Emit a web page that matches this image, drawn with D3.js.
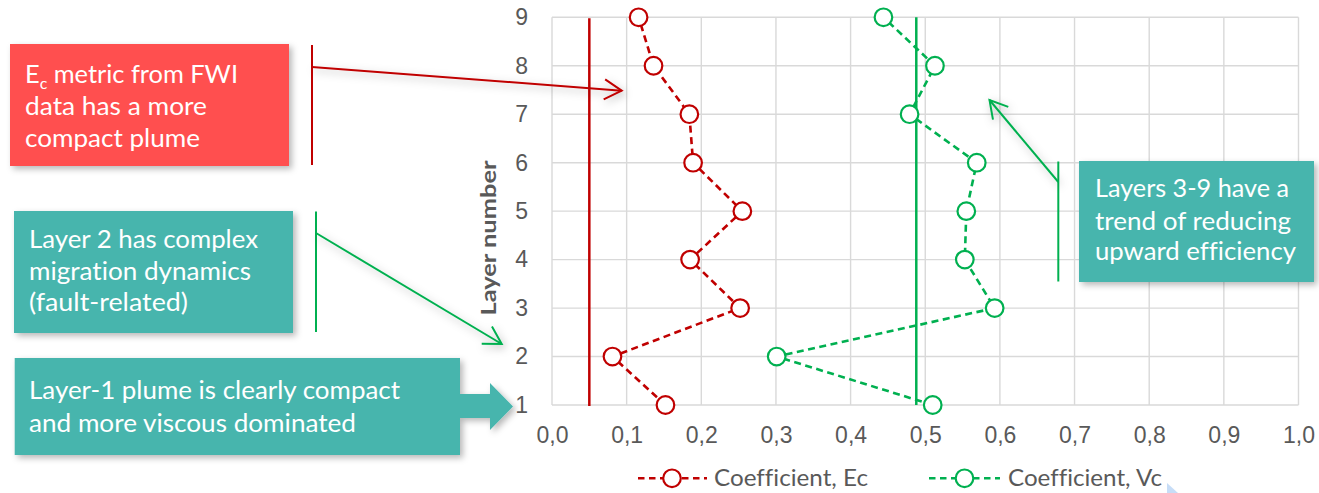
<!DOCTYPE html>
<html>
<head>
<meta charset="utf-8">
<script src="https://cdn.jsdelivr.net/npm/d3@7"></script>
<style>
  html, body { margin: 0; padding: 0; background: #fff; }
  svg { display: block; }
</style>
</head>
<body>
<svg id="chart" width="1319" height="493"></svg>
<script>
// ---------------- DATA ----------------
const layers = [1, 2, 3, 4, 5, 6, 7, 8, 9];
const ecValues = [0.152, 0.081, 0.252, 0.185, 0.255, 0.189, 0.184, 0.136, 0.116];
const vcValues = [0.510, 0.301, 0.593, 0.553, 0.555, 0.569, 0.479, 0.513, 0.444];
const ecThreshold = 0.05;
const vcThreshold = 0.488;
const xTicks = [0, 0.1, 0.2, 0.3, 0.4, 0.5, 0.6, 0.7, 0.8, 0.9, 1.0];
const yTicks = [1, 2, 3, 4, 5, 6, 7, 8, 9];
const seriesNames = ["Coefficient, Ec", "Coefficient, Vc"];
const yAxisTitle = "Layer number";

// ---------------- SETUP ----------------
const svg = d3.select("#chart");
const RED = "#c00000", GREEN = "#00b050", GRID = "#d9d9d9", TXT = "#595959";
const RED_BOX = "#ff5050", TEAL = "#46b5ad";
const CAL = "Lato, 'Open Sans', sans-serif";

const x = d3.scaleLinear().domain([0, 1]).range([552, 1298.5]);
const y = d3.scaleLinear().domain([1, 9]).range([405, 17.3]);

const defs = svg.append("defs");
const f1 = defs.append("filter").attr("id", "shadow")
  .attr("x", "-20%").attr("y", "-30%").attr("width", "140%").attr("height", "160%");
f1.append("feDropShadow").attr("dx", 3).attr("dy", 3).attr("stdDeviation", 3)
  .attr("flood-color", "#000").attr("flood-opacity", 0.28);
const f2 = defs.append("filter").attr("id", "ashadow")
  .attr("x", "-30%").attr("y", "-30%").attr("width", "160%").attr("height", "160%");
f2.append("feDropShadow").attr("dx", 2).attr("dy", 3).attr("stdDeviation", 4)
  .attr("flood-color", "#000").attr("flood-opacity", 0.3);

// ---------------- GRID ----------------
const grid = svg.append("g");
grid.selectAll("line.v").data(xTicks).join("line")
  .attr("x1", d => x(d)).attr("x2", d => x(d))
  .attr("y1", y(9)).attr("y2", y(1))
  .attr("stroke", GRID).attr("stroke-width", 1.4);
grid.selectAll("line.h").data(yTicks).join("line")
  .attr("x1", x(0)).attr("x2", x(1))
  .attr("y1", d => y(d)).attr("y2", d => y(d))
  .attr("stroke", GRID).attr("stroke-width", 1.4);

// ---------------- AXES ----------------
const loc = d3.formatLocale({decimal: ",", thousands: ".", grouping: [3], currency: ["", ""]});
const fmt = loc.format(".1f");
const xAxis = svg.append("g").attr("transform", `translate(0,${y(1)})`)
  .call(d3.axisBottom(x).tickValues(xTicks).tickFormat(fmt).tickSize(0).tickPadding(22));
const yAxis = svg.append("g").attr("transform", `translate(${x(0)},0)`)
  .call(d3.axisLeft(y).tickValues(yTicks).tickFormat(d3.format("d")).tickSize(0).tickPadding(24));
[xAxis, yAxis].forEach(a => {
  a.select(".domain").remove();
  a.selectAll("text").attr("fill", TXT)
    .style("font-family", "'Liberation Sans', Arial, sans-serif").style("font-size", "23px");
});

svg.append("text")
  .attr("transform", `translate(496,238) rotate(-90)`)
  .attr("text-anchor", "middle")
  .attr("fill", TXT).style("font-family", CAL).style("font-weight", "bold").style("font-size", "21px")
  .attr("textLength", 155).attr("lengthAdjust", "spacingAndGlyphs")
  .text(yAxisTitle);

// ---------------- THRESHOLD LINES ----------------
svg.append("line").attr("x1", x(ecThreshold)).attr("x2", x(ecThreshold))
  .attr("y1", y(9) + 1).attr("y2", y(1) + 1).attr("stroke", RED).attr("stroke-width", 2.5);
svg.append("line").attr("x1", x(vcThreshold)).attr("x2", x(vcThreshold))
  .attr("y1", y(9)).attr("y2", y(1)).attr("stroke", GREEN).attr("stroke-width", 2.5);

// ---------------- SERIES ----------------
const series = [
  {name: seriesNames[0], values: ecValues, color: RED},
  {name: seriesNames[1], values: vcValues, color: GREEN}
];
const line = d3.line().x(d => x(d.v)).y(d => y(d.l));
series.forEach(s => {
  const pts = layers.map((l, i) => ({l, v: s.values[i]}));
  svg.append("path").datum(pts).attr("d", line)
    .attr("fill", "none").attr("stroke", s.color).attr("stroke-width", 2.6)
    .attr("stroke-dasharray", "7,4.5");
  svg.append("g").selectAll("circle").data(pts).join("circle")
    .attr("cx", d => x(d.v)).attr("cy", d => y(d.l)).attr("r", 8.8)
    .attr("fill", "#fff").attr("stroke", s.color).attr("stroke-width", 2.2);
});

// ---------------- LEGEND ----------------
const legendItems = [
  {name: seriesNames[0], color: RED, x1: 638, x2: 707, cx: 672, tx: 714},
  {name: seriesNames[1], color: GREEN, x1: 929, x2: 1000, cx: 964.5, tx: 1008}
];
legendItems.forEach(it => {
  svg.append("line").attr("x1", it.x1).attr("x2", it.x2).attr("y1", 478.3).attr("y2", 478.3)
    .attr("stroke", it.color).attr("stroke-width", 2.6).attr("stroke-dasharray", "6.5,4.5");
  svg.append("circle").attr("cx", it.cx).attr("cy", 478.3).attr("r", 8.8)
    .attr("fill", "#fff").attr("stroke", it.color).attr("stroke-width", 2.2);
  svg.append("text").attr("x", it.tx).attr("y", 485.5).attr("fill", TXT)
    .style("font-family", CAL).style("font-size", "23px")
    .style("font-variant-ligatures", "none")
    .attr("textLength", 154).attr("lengthAdjust", "spacingAndGlyphs")
    .text(it.name);
});

// ---------------- ANNOTATIONS ----------------
function arrowLine(x1, y1, x2, y2, color) {
  const g = svg.append("g").attr("filter", "url(#ashadow)");
  g.append("line").attr("x1", x1).attr("y1", y1).attr("x2", x2).attr("y2", y2)
    .attr("stroke", color).attr("stroke-width", 2);
  const ang = Math.atan2(y2 - y1, x2 - x1);
  const L = 20, a = Math.PI / 6;
  const p1 = [x2 - L * Math.cos(ang - a), y2 - L * Math.sin(ang - a)];
  const p2 = [x2 - L * Math.cos(ang + a), y2 - L * Math.sin(ang + a)];
  g.append("path").attr("d", `M${p1[0]},${p1[1]} L${x2},${y2} L${p2[0]},${p2[1]}`)
    .attr("fill", "none").attr("stroke", color).attr("stroke-width", 2);
}
function bracket(xp, y1, y2, color) {
  svg.append("line").attr("x1", xp).attr("x2", xp).attr("y1", y1).attr("y2", y2)
    .attr("stroke", color).attr("stroke-width", 2);
}
function boxText(lines, ys, widths, anchorX) {
  lines.forEach((t, i) => {
    const el = svg.append("text").attr("x", anchorX).attr("y", ys[i]).attr("fill", "#fff")
      .style("font-family", CAL).style("font-size", "25.5px")
      .style("font-variant-ligatures", "none")
      .attr("textLength", widths[i]).attr("lengthAdjust", "spacingAndGlyphs");
    if (Array.isArray(t)) {
      el.append("tspan").text(t[0]);
      el.append("tspan").attr("dy", 6).style("font-size", "16px").text(t[1]);
      el.append("tspan").attr("dy", -6).text(t[2]);
    } else el.text(t);
  });
}

// Red box
svg.append("rect").attr("x", 10).attr("y", 44).attr("width", 279).attr("height", 122)
  .attr("fill", RED_BOX).attr("filter", "url(#shadow)");
boxText([["E", "c", " metric from FWI"], "data has a more", "compact plume"],
  [83, 115, 147], [213, 182, 175], 25);
bracket(312, 45, 165, RED);
arrowLine(312, 67, 621.7, 90.7, RED);

// Teal box: layer 2
svg.append("rect").attr("x", 14).attr("y", 211).attr("width", 279).attr("height", 122)
  .attr("fill", TEAL).attr("filter", "url(#shadow)");
boxText(["Layer 2 has complex", "migration dynamics", "(fault-related)"],
  [248, 280, 311], [229, 222, 159], 29);
bracket(316, 211.5, 332, GREEN);
arrowLine(316, 233, 501.7, 344, GREEN);

// Teal block arrow: layer 1
svg.append("path")
  .attr("d", "M14.7,358 L460,358 L460,394 L490,394 L490,383 L513,406.5 L490,430 L490,418 L460,418 L460,455 L14.7,455 Z")
  .attr("fill", TEAL).attr("filter", "url(#shadow)");
boxText(["Layer-1 plume is clearly compact", "and more viscous dominated"],
  [399, 432], [371, 327], 29);

// Teal box: layers 3-9
svg.append("rect").attr("x", 1079).attr("y", 161).attr("width", 235).attr("height", 121)
  .attr("fill", TEAL).attr("filter", "url(#shadow)");
boxText(["Layers 3-9 have a", "trend of reducing", "upward efficiency"],
  [197, 230, 260], [194, 196, 201], 1095);
bracket(1058.3, 161.5, 281.5, GREEN);
arrowLine(1058.3, 182, 989.5, 100, GREEN);

// cursor artefact
svg.append("polygon").attr("points", "1167,483 1167,493 1178,493")
  .attr("fill", "#b9d4f5").attr("opacity", 0.8);
</script>
</body>
</html>
